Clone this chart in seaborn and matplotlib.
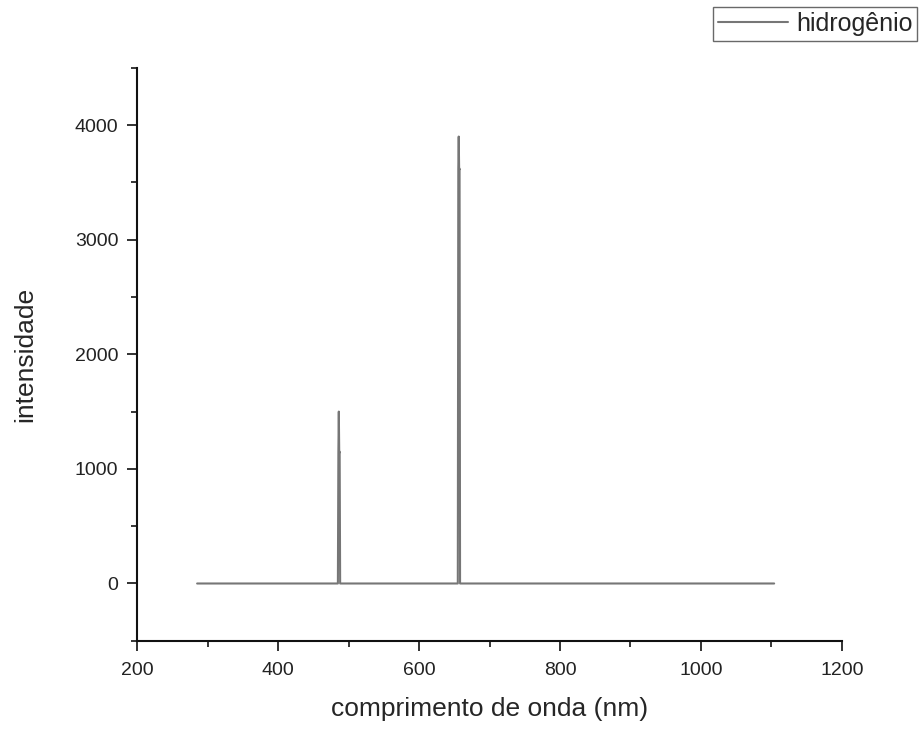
import matplotlib
matplotlib.use("Agg")
import matplotlib.pyplot as plt
import seaborn as sns
import pandas as pd
from matplotlib.ticker import MultipleLocator

wavelength = [285, 484.8, 485.5, 486.1, 486.7, 487.3, 488.0,
              655.0, 655.7, 656.3, 656.9, 657.5, 658.2, 1104]
intensity = [0, 0, 1150, 1500, 1140, 1150, 0,
             0, 3620, 3900, 3610, 3620, 0, 0]
series_name = "hidrogênio"

df = pd.DataFrame({"comprimento": wavelength, "intensidade": intensity,
                   "serie": [series_name] * len(wavelength)})

sns.set_theme(style="ticks")
plt.rcParams['font.family'] = ['Liberation Sans', 'DejaVu Sans']

fig = plt.figure(figsize=(9.21, 7.29), dpi=100)
ax = fig.add_axes([0.149, 0.121, 0.765, 0.786])
sns.lineplot(data=df, x="comprimento", y="intensidade", hue="serie",
             palette=["#767676"], estimator=None, sort=False, lw=1.5, ax=ax)

ax.set_xlim(200, 1200)
ax.set_ylim(-500, 4500)
ax.set_xticks([200, 400, 600, 800, 1000, 1200])
ax.set_yticks([0, 1000, 2000, 3000, 4000])
ax.xaxis.set_minor_locator(MultipleLocator(100))
ax.yaxis.set_minor_locator(MultipleLocator(500))
ax.tick_params(which="major", direction="out", length=7.5, width=1.3, labelsize=14, colors="#222222", pad=6)
ax.tick_params(which="minor", direction="out", length=4.5, width=1.3)
ax.tick_params(axis="x", which="major", pad=7.5)
for s in ["top", "right"]:
    ax.spines[s].set_visible(False)
for s in ["left", "bottom"]:
    ax.spines[s].set_linewidth(1.5)
    ax.spines[s].set_color("#111111")
ax.set_xlabel("comprimento de onda (nm)", fontsize=19, labelpad=13)
ax.set_ylabel("intensidade", fontsize=19, labelpad=27)

leg = ax.legend(loc="upper right", bbox_to_anchor=(0.996, 0.991), bbox_transform=fig.transFigure,
                frameon=True, fancybox=False, fontsize=18, handlelength=2.8,
                borderpad=0.2, borderaxespad=0, handletextpad=0.3, title=None)
leg.get_frame().set_edgecolor("#444444")
leg.get_frame().set_linewidth(1.0)

fig.savefig("out.png", dpi=100, facecolor="white")
